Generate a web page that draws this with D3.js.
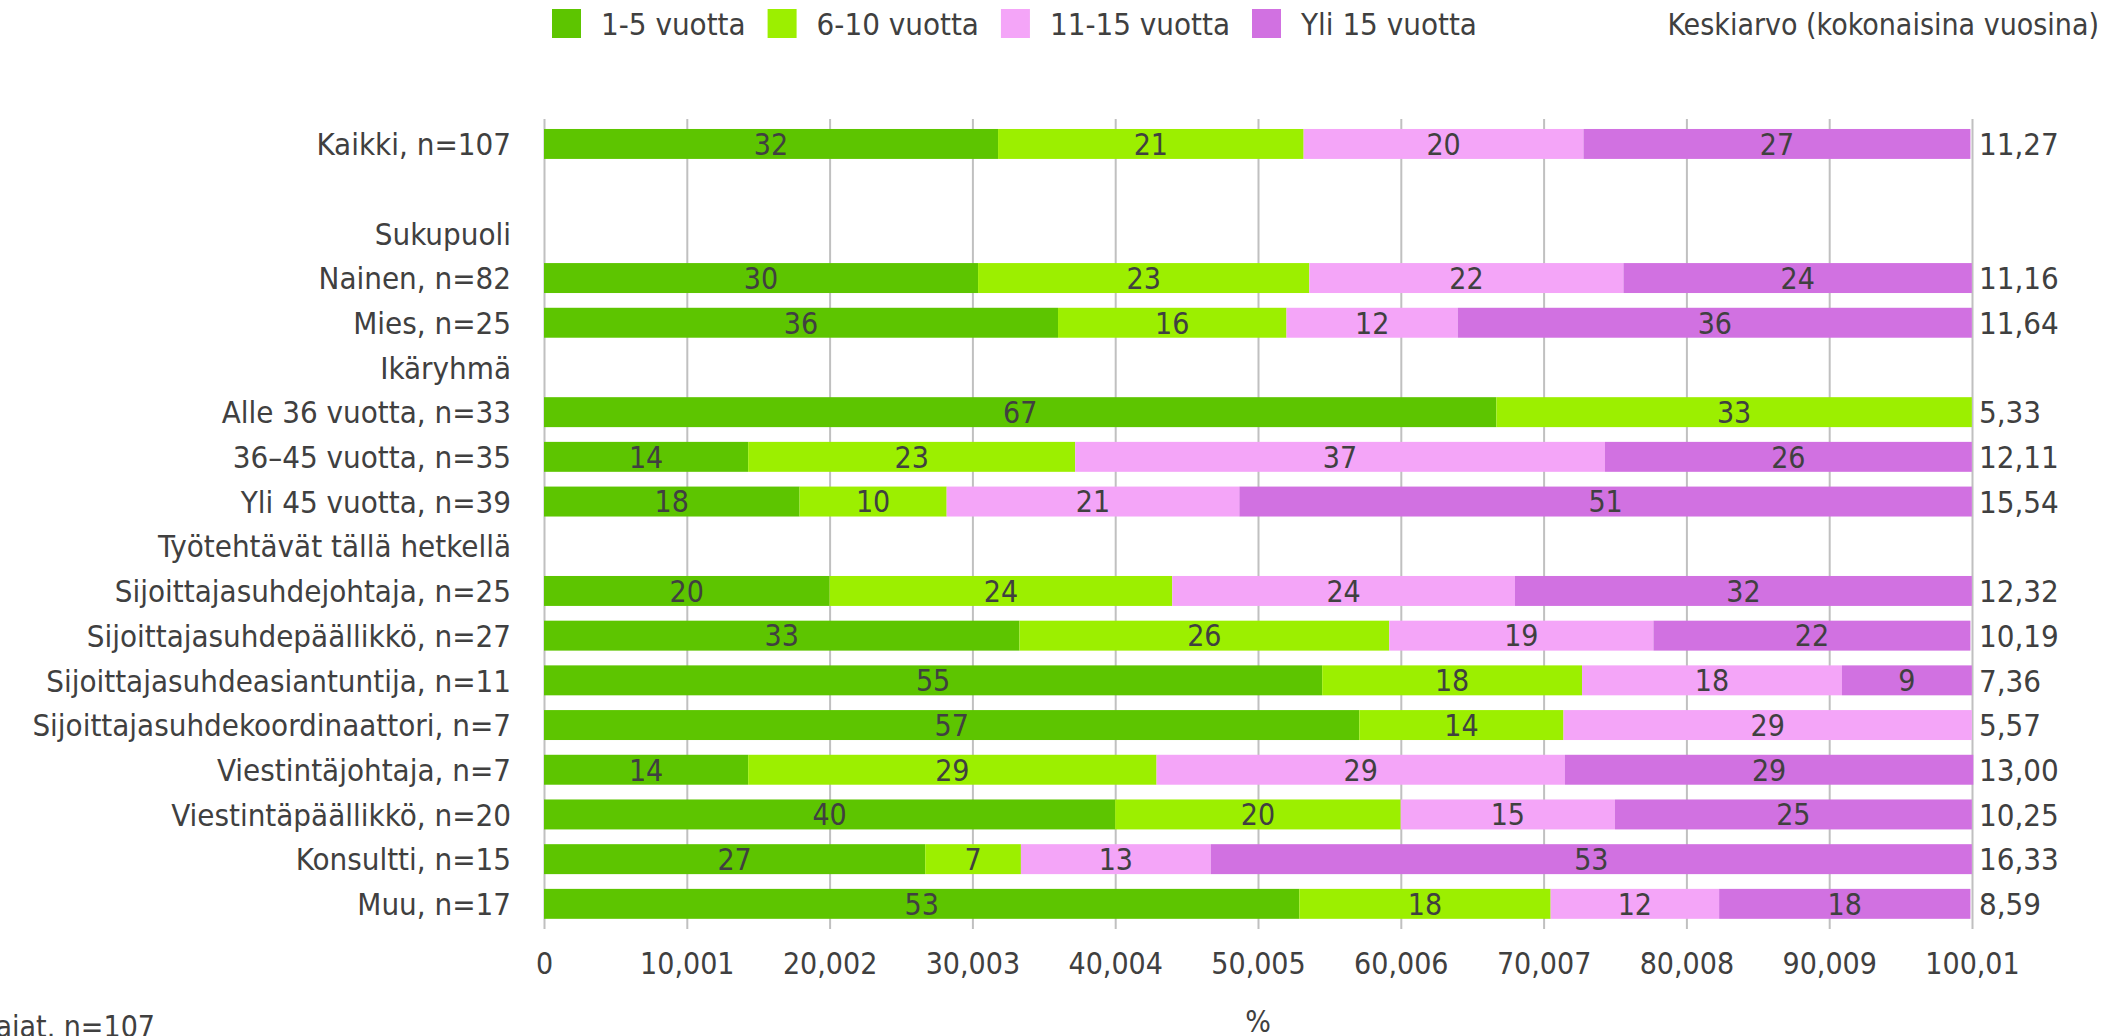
<!DOCTYPE html>
<html>
<head>
<meta charset="utf-8">
<script src="https://cdn.jsdelivr.net/npm/d3@7"></script>
<style>
  body { margin: 0; background: #fff; }
  svg text { font-family: "DejaVu Sans Condensed", "DejaVu Sans", sans-serif; fill: #404040; }
</style>
</head>
<body>
<svg id="chart" width="2110" height="1036"></svg>
<script>
// rows, top to bottom (empty string = spacer row)
const categories = [
  "Kaikki, n=107", "", "Sukupuoli", "Nainen, n=82", "Mies, n=25", "Ikäryhmä",
  "Alle 36 vuotta, n=33", "36–45 vuotta, n=35", "Yli 45 vuotta, n=39",
  "Työtehtävät tällä hetkellä", "Sijoittajasuhdejohtaja, n=25",
  "Sijoittajasuhdepäällikkö, n=27", "Sijoittajasuhdeasiantuntija, n=11",
  "Sijoittajasuhdekoordinaattori, n=7", "Viestintäjohtaja, n=7",
  "Viestintäpäällikkö, n=20", "Konsultti, n=15", "Muu, n=17"
];

const seriesNames = ["1-5 vuotta", "6-10 vuotta", "11-15 vuotta", "Yli 15 vuotta"];
const seriesColors = ["#5dc500", "#9cef00", "#f4a5f8", "#d171e1"];

// percentages (null = header row without bar)
const v1to5 = [31.8, null, null, 30.4, 36, null, 66.7, 14.3, 17.9, null, 20, 33.3, 54.5, 57.1, 14.3, 40, 26.7, 52.9];
const v6to10 = [21.4, null, null, 23.2, 16, null, 33.3, 22.9, 10.3, null, 24, 25.9, 18.2, 14.3, 28.6, 20, 6.7, 17.6];
const v11to15 = [19.6, null, null, 22.0, 12, null, 0, 37.1, 20.5, null, 24, 18.5, 18.2, 28.6, 28.6, 15, 13.3, 11.8];
const vOver15 = [27.1, null, null, 24.4, 36, null, 0, 25.7, 51.3, null, 32, 22.2, 9.1, 0, 28.6, 25, 53.3, 17.6];

const averages = ["11,27", "", "", "11,16", "11,64", "", "5,33", "12,11", "15,54", "",
  "12,32", "10,19", "7,36", "5,57", "13,00", "10,25", "16,33", "8,59"];

const tickValues = [0, 10.001, 20.002, 30.003, 40.004, 50.005, 60.006, 70.007, 80.008, 90.009, 100.01];
const tickLabels = ["0", "10,001", "20,002", "30,003", "40,004", "50,005", "60,006", "70,007", "80,008", "90,009", "100,01"];

const legendExtra = "Keskiarvo (kokonaisina vuosina)";
const axisTitle = "%";
const footNote = "Vastaajat, n=107";

const svg = d3.select("#chart");
const fontSize = 30;
const labelSize = 31;

const x = d3.scaleLinear().domain([0, 100.01]).range([544, 1972]);
const y = d3.scaleBand()
  .domain(d3.range(categories.length))
  .range([121.6, 926.2])
  .paddingInner(0.33)
  .paddingOuter(0.165);

const gridTop = 119;
const gridBottom = 929;

// grid + x axis
const xAxis = svg.append("g")
  .attr("transform", `translate(0,${gridBottom})`)
  .call(d3.axisBottom(x)
    .tickValues(tickValues)
    .tickFormat((d, i) => tickLabels[i])
    .tickSize(-(gridBottom - gridTop))
    .tickPadding(24));
xAxis.select(".domain").remove();
xAxis.selectAll(".tick line").attr("stroke", "#c0c0c0").attr("stroke-width", 2);
xAxis.selectAll(".tick text").attr("font-size", fontSize).attr("fill", "#404040")
  .attr("font-family", '"DejaVu Sans Condensed", "DejaVu Sans", sans-serif');

// stacked data
const seriesValues = [v1to5, v6to10, v11to15, vOver15];
const rows = categories.map((c, i) => {
  let start = 0;
  return seriesValues.map((vals, s) => {
    const v = vals[i];
    const seg = { row: i, s: s, v: v, x0: start, x1: start + (v || 0) };
    start += v || 0;
    return seg;
  });
});
const segments = rows.flat().filter((d) => d.v);

const bars = svg.append("g");
bars.selectAll("rect")
  .data(segments)
  .enter()
  .append("rect")
  .attr("x", (d) => x(d.x0))
  .attr("y", (d) => y(d.row))
  .attr("width", (d) => x(d.x1) - x(d.x0))
  .attr("height", y.bandwidth())
  .attr("fill", (d) => seriesColors[d.s]);

bars.selectAll("text")
  .data(segments)
  .enter()
  .append("text")
  .attr("x", (d) => (x(d.x0) + x(d.x1)) / 2)
  .attr("y", (d) => y(d.row) + y.bandwidth() / 2)
  .attr("dy", "0.36em")
  .attr("text-anchor", "middle")
  .attr("font-size", fontSize)
  .text((d) => Math.round(d.v));

// category labels
svg.append("g")
  .selectAll("text")
  .data(categories)
  .enter()
  .append("text")
  .attr("x", 511)
  .attr("y", (d, i) => y(i) + y.bandwidth() / 2)
  .attr("dy", "0.36em")
  .attr("text-anchor", "end")
  .attr("font-size", labelSize)
  .text((d) => d);

// averages on the right
svg.append("g")
  .selectAll("text")
  .data(averages)
  .enter()
  .append("text")
  .attr("x", 1979)
  .attr("y", (d, i) => y(i) + y.bandwidth() / 2)
  .attr("dy", "0.36em")
  .attr("font-size", labelSize)
  .text((d) => d);

// legend
const legend = svg.append("g");
let lx = 552;
seriesNames.forEach((name, i) => {
  legend.append("rect")
    .attr("x", lx).attr("y", 9)
    .attr("width", 29).attr("height", 29)
    .attr("fill", seriesColors[i]);
  const t = legend.append("text")
    .attr("x", lx + 49).attr("y", 24)
    .attr("dy", "0.36em")
    .attr("font-size", labelSize)
    .text(name);
  lx += 49 + t.node().getComputedTextLength() + 22;
});
legend.append("text")
  .attr("x", 2099).attr("y", 24)
  .attr("dy", "0.36em")
  .attr("text-anchor", "end")
  .attr("font-size", fontSize)
  .text(legendExtra);

// axis title and note
svg.append("text")
  .attr("x", (x.range()[0] + x.range()[1]) / 2)
  .attr("y", 1021)
  .attr("dy", "0.36em")
  .attr("text-anchor", "middle")
  .attr("font-size", fontSize)
  .text(axisTitle);

svg.append("text")
  .attr("x", 155)
  .attr("y", 1037)
  .attr("text-anchor", "end")
  .attr("font-size", fontSize)
  .text(footNote);
</script>
</body>
</html>
